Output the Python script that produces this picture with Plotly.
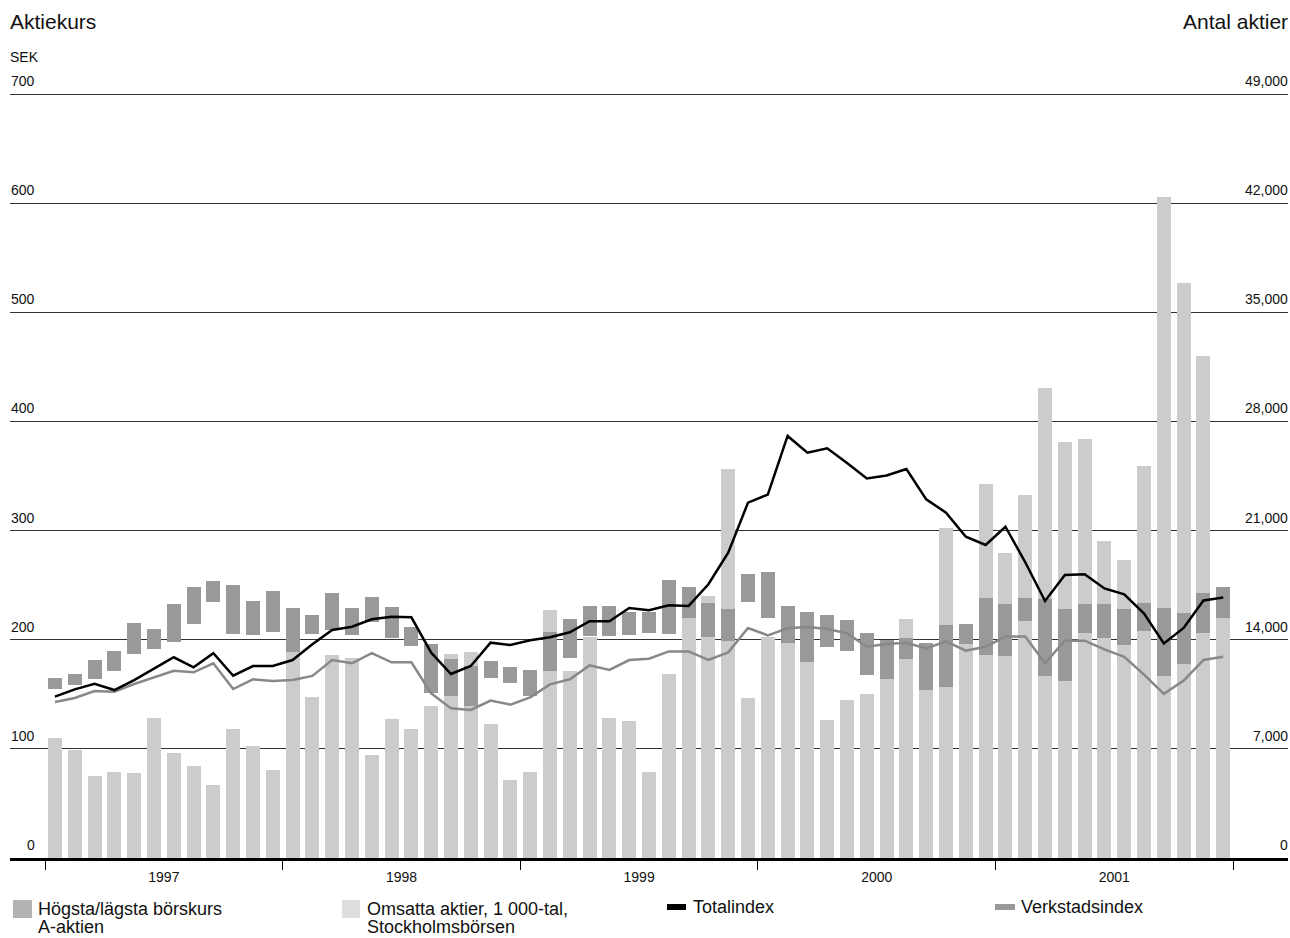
import plotly.graph_objects as go

years = ["1997", "1998", "1999", "2000", "2001"]
months = list(range(60))

# Omsatta aktier, 1 000-tal (right axis)
volume = [7700, 6930, 5260, 5520, 5450, 8980, 6740, 5900, 4680, 8280, 7180, 5640,
          13230, 10330, 13020, 12830, 6610, 8920, 8280, 9750, 13080, 13220, 8600, 5000,
          5520, 15900, 12010, 14190, 8970, 8790, 5530, 11800, 15400, 16800, 24950, 10260,
          14190, 13800, 12600, 8850, 10130, 10520, 11500, 15330, 10790, 21170, 13700, 23990,
          19530, 23300, 30130, 26670, 26860, 20300, 19100, 25160, 42400, 36900, 32220, 15390]

# Högsta / lägsta börskurs A-aktien (SEK)
high = [165, 168.6, 181.4, 189.7, 215.3, 209.8, 232.7, 248.3, 253.8, 250.1, 235.5, 244.6,
        229, 222.6, 242.8, 229, 239, 230, 211.7, 196, 182.3, 176, 180.5, 175,
        172.3, 207.3, 219, 231, 231, 225.4, 225.4, 254.7, 248.3, 233.6, 228, 260,
        262, 231, 225.4, 222.6, 218, 206, 199.7, 201.6, 196.7, 213.5, 214.4, 238,
        232.5, 238.5, 237.5, 228.6, 233, 232.5, 228.6, 234, 229.5, 224.7, 242.6, 248.7]
low = [155, 158.5, 164, 171.3, 187, 191.5, 198, 214.7, 234.5, 205.5, 204.6, 207.4,
       189, 205.5, 208.9, 204.3, 216.2, 201.8, 194.5, 151.5, 148.7, 139.3, 165.2, 160.6,
       148.7, 171.5, 183.5, 203, 203, 204.6, 206.4, 205.5, 220, 202.5, 199, 235,
       220, 197, 180, 193.6, 190, 168, 164.3, 182.6, 154.2, 157, 196, 186,
       185, 217.5, 167, 162, 206.6, 202, 195.5, 208.4, 167, 178, 206.6, 219.8]

totalindex = [147.8, 154.5, 159.7, 153.9, 163, 173.8, 183.9, 174.7, 187.6, 167, 175.9, 175.9,
              181.4, 195.8, 208.9, 211.9, 218.7, 221.1, 220.5, 188.1, 168.6, 175.9, 197.3, 195.2,
              199.5, 202.2, 206.8, 216.9, 216.9, 229, 227, 231.5, 231, 250.8, 279.7, 325.6,
              333, 386.7, 371.4, 375.4, 362, 347.7, 350.4, 356.4, 328.6, 316.4, 294.4, 286.8,
              303.5, 271, 235.5, 259.3, 260, 247, 241.5, 224, 196.5, 210.8, 236, 238.6]

verkstadsindex = [142.9, 146.6, 153, 152.4, 159.4, 165.2, 171.6, 170.1, 178.4, 154.8, 163.7, 162.2,
                  163.1, 166.8, 181.4, 178.4, 187.8, 179.3, 179.3, 150.9, 137.1, 135.6, 144.2, 140.5,
                  147.2, 159.1, 163.7, 176.5, 172.3, 181.4, 182.6, 189.3, 189.3, 181.4, 188.4, 210.7,
                  204, 210.5, 211.7, 209.8, 205.9, 193.5, 196, 197.2, 192.1, 198.5, 190, 193.5,
                  202.9, 202.9, 178.5, 199.1, 199.1, 191.2, 184.3, 168, 150.4, 162.6, 181.4, 184.3]

price_ticks = list(range(0, 701, 100))
volume_ticks = list(range(0, 49001, 7000))

FONT = "Liberation Sans, Arial, sans-serif"
DARK = "#999999"
LIGHT = "#cccccc"

fig = go.Figure()
fig.add_trace(go.Bar(x=months, y=volume, width=0.71, marker=dict(color=LIGHT, line=dict(width=0)),
                     yaxis="y", name="Omsatta aktier", showlegend=False, hoverinfo="skip"))
fig.add_trace(go.Bar(x=months, y=[h - l for h, l in zip(high, low)], base=low, width=0.71,
                     marker=dict(color=DARK, line=dict(width=0)), yaxis="y2",
                     name="Högsta/lägsta", showlegend=False, hoverinfo="skip"))
fig.add_trace(go.Scatter(x=months, y=verkstadsindex, mode="lines", yaxis="y2",
                         line=dict(color="#888888", width=2.5), showlegend=False, hoverinfo="skip"))
fig.add_trace(go.Scatter(x=months, y=totalindex, mode="lines", yaxis="y2",
                         line=dict(color="#000000", width=2.5), showlegend=False, hoverinfo="skip"))

year_centers = [12 * k + 5.5 for k in range(len(years))]
year_bounds = [12 * k - 0.5 for k in range(len(years) + 1)]

W, H = 1290, 938
ML, MR, MT, MB = 10, 2, 91, 80
pw, ph = W - ML - MR, H - MT - MB
EXT = ph / (H - MB - 94)   # top gridline (700) sits at pixel row 94


def px(x):
    return (x - ML) / pw


def py(y):
    return (H - MB - y) / ph


fig.update_layout(
    width=W, height=H,
    margin=dict(l=ML, r=MR, t=MT, b=MB, pad=0),
    paper_bgcolor="white", plot_bgcolor="white",
    barmode="overlay", bargap=0,
    font=dict(family=FONT, size=14, color="#111111"),
    showlegend=False,
    xaxis=dict(range=[-2.27, 62.27], tickmode="array", tickvals=year_centers, ticktext=years,
               ticks="outside", ticklen=4, tickcolor="rgba(0,0,0,0)",
               showline=True, linecolor="#000000", linewidth=3, showgrid=False, zeroline=False,
               tickfont=dict(size=14),
               minor=dict(tickmode="array", tickvals=year_bounds, ticks="outside", ticklen=9,
                          tickcolor="#000000", tickwidth=1, showgrid=False)),
    yaxis=dict(range=[0, 49000 * EXT], side="right", tickmode="array", tickvals=volume_ticks,
               showticklabels=False, ticks="",
               showgrid=True, gridcolor="#333333", gridwidth=1, zeroline=False, showline=False),
    yaxis2=dict(range=[0, 700 * EXT], side="left", overlaying="y", tickmode="array",
                tickvals=price_ticks, showticklabels=False, ticks="", showgrid=False,
                zeroline=False, showline=False),
)

LEG = 18
annotations = [
    dict(text="Aktiekurs", x=px(9), y=py(22), xanchor="left", yanchor="middle", font=dict(size=21),
         xref="paper", yref="paper"),
    dict(text="SEK", x=px(9), y=py(57), xanchor="left", yanchor="middle", font=dict(size=14),
         xref="paper", yref="paper"),
    dict(text="Antal aktier", x=px(1289), y=py(22), xanchor="right", yanchor="middle",
         font=dict(size=21), xref="paper", yref="paper"),
    dict(text="Högsta/lägsta börskurs", x=px(37), y=py(909), xanchor="left", yanchor="middle",
         font=dict(size=LEG), xref="paper", yref="paper"),
    dict(text="A-aktien", x=px(37), y=py(927), xanchor="left", yanchor="middle",
         font=dict(size=LEG), xref="paper", yref="paper"),
    dict(text="Omsatta aktier, 1 000-tal,", x=px(366), y=py(909), xanchor="left", yanchor="middle",
         font=dict(size=LEG), xref="paper", yref="paper"),
    dict(text="Stockholmsbörsen", x=px(366), y=py(927), xanchor="left", yanchor="middle",
         font=dict(size=LEG), xref="paper", yref="paper"),
    dict(text="Totalindex", x=px(692), y=py(907), xanchor="left", yanchor="middle",
         font=dict(size=LEG), xref="paper", yref="paper"),
    dict(text="Verkstadsindex", x=px(1020), y=py(907), xanchor="left", yanchor="middle",
         font=dict(size=LEG), xref="paper", yref="paper"),
]
for v in price_ticks:
    annotations.append(dict(text=str(v), x=px(36), y=v, xref="paper", yref="y2", xanchor="right",
                            yanchor="bottom", yshift=4, font=dict(size=14)))
for v in volume_ticks:
    annotations.append(dict(text=f"{v:,}", x=px(1289), y=v, xref="paper", yref="y", xanchor="right",
                            yanchor="bottom", yshift=4, font=dict(size=14)))
for a in annotations:
    a.update(showarrow=False, borderpad=0)
fig.update_layout(annotations=annotations)

shapes = [
    dict(type="rect", x0=px(13), x1=px(32), y0=py(900), y1=py(918), fillcolor="#b3b3b3", line=dict(width=0)),
    dict(type="rect", x0=px(342), x1=px(360), y0=py(900), y1=py(918), fillcolor="#dddddd", line=dict(width=0)),
    dict(type="rect", x0=px(667), x1=px(686), y0=py(904), y1=py(910), fillcolor="#000000", line=dict(width=0)),
    dict(type="rect", x0=px(995), x1=px(1015), y0=py(904), y1=py(910), fillcolor="#999999", line=dict(width=0)),
]
for s in shapes:
    s.update(xref="paper", yref="paper", layer="above")
fig.update_layout(shapes=shapes)

fig.write_html("out.html", config={"displayModeBar": False},
               post_script="document.body.style.margin='0';")
